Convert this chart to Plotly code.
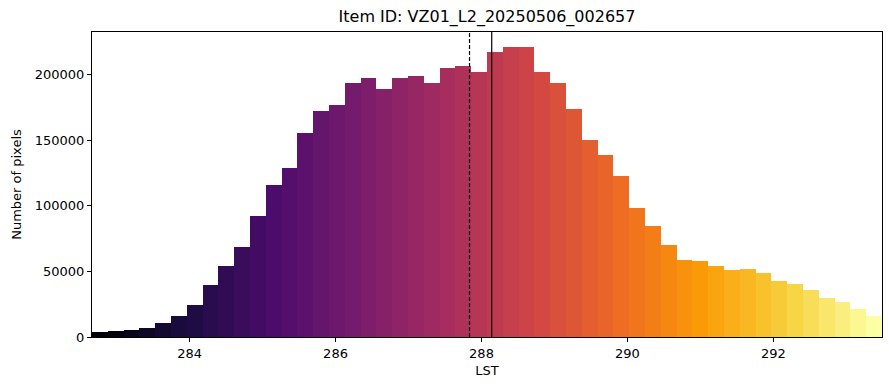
import numpy as np
import plotly.graph_objects as go
from plotly.colors import sample_colorscale

# Histogram data (LST bins)
bin_start = 282.663
bin_end = 293.488
n_bins = 50
counts = [3600, 4600, 5300, 6900, 10700, 16000, 24200, 39500, 54200, 68500,
          92400, 115800, 129000, 155500, 172500, 176900, 193900, 197500, 189100, 197500,
          199000, 193700, 205100, 206700, 202100, 217300, 221200, 221200, 202100, 193700,
          173800, 150200, 138700, 122700, 98200, 84500, 70000, 58600, 57800, 54000,
          50900, 51700, 48600, 42500, 40200, 35700, 29500, 26500, 21100, 15800]
mean_val = 287.836
median_val = 288.14
title = "Item ID: VZ01_L2_20250506_002657"
x_ticks = [284, 286, 288, 290, 292]
y_ticks = [0, 50000, 100000, 150000, 200000]

edges = np.linspace(bin_start, bin_end, n_bins + 1)
centers = (edges[:-1] + edges[1:]) / 2
width = edges[1] - edges[0]
colors = sample_colorscale("Inferno", [i / (n_bins - 1) for i in range(n_bins)])

fig = go.Figure()
fig.add_trace(go.Bar(x=centers, y=counts, width=[width] * n_bins,
                     marker=dict(color=colors, line=dict(width=0)),
                     showlegend=False, hoverinfo="x+y"))

ymax = max(counts) * 1.052
fig.add_trace(go.Scatter(x=[mean_val, mean_val], y=[0, ymax], mode="lines",
                         line=dict(color="black", width=1.2, dash="4px,2px"), showlegend=False))
fig.add_trace(go.Scatter(x=[median_val, median_val], y=[0, ymax], mode="lines",
                         line=dict(color="black", width=1.2), showlegend=False))

font = "DejaVu Sans"
fig.update_layout(
    width=889, height=390,
    margin=dict(l=92, r=7, t=32, b=53),
    paper_bgcolor="white", plot_bgcolor="white",
    bargap=0,
    font=dict(family=font, size=13, color="black"),
    title=dict(text=title, x=0.5, xanchor="center", xref="paper", y=1, yref="container",
               yanchor="top", pad=dict(t=11), font=dict(size=16, family=font, color="black")),
)
fig.update_xaxes(range=[bin_start, bin_end], tickvals=x_ticks, ticks="outside", ticklen=4,
                 tickcolor="black", showline=True, linecolor="black", linewidth=1, mirror=True,
                 showgrid=False, zeroline=False, title=dict(text="LST", standoff=6, font=dict(size=13)))
fig.update_yaxes(range=[0, ymax], tickvals=y_ticks, ticktext=[str(v) for v in y_ticks],
                 ticks="outside", ticklen=4, tickcolor="black", showline=True, linecolor="black",
                 linewidth=1, mirror=True, showgrid=False, zeroline=False,
                 title=dict(text="Number of pixels", standoff=10, font=dict(size=13)))

fig.write_html("out.html")
